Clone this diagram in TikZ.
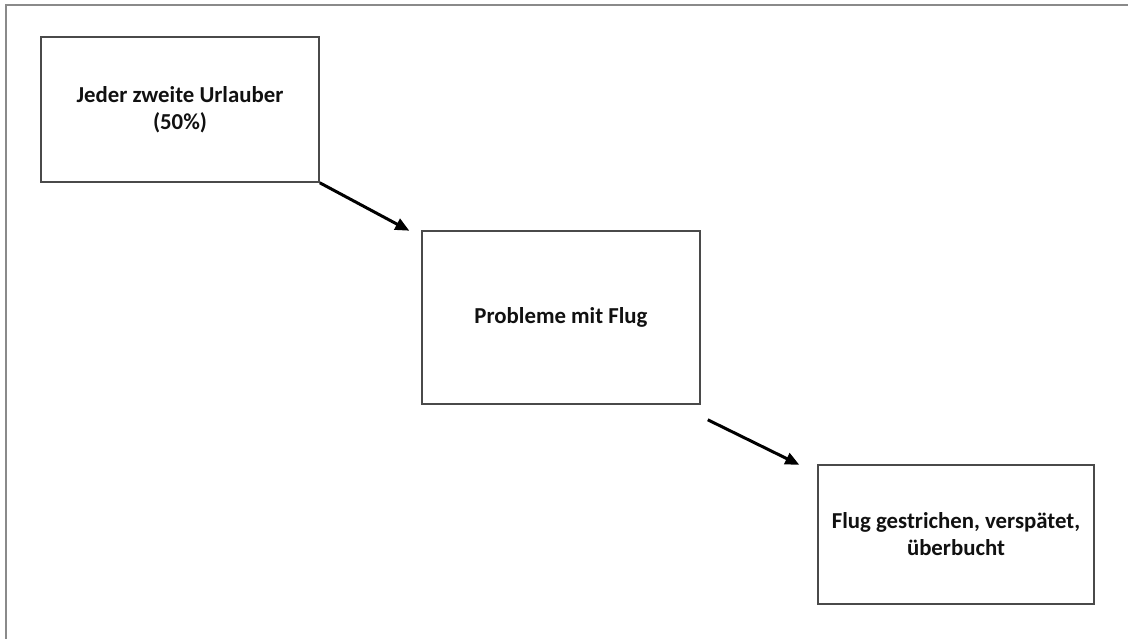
\documentclass[tikz,border=0pt]{standalone}
\usepackage{fontspec}
\setmainfont{Carlito}
\usetikzlibrary{arrows.meta,calc}
\definecolor{framegray}{HTML}{8A8A8A}
\definecolor{boxgray}{HTML}{4A4A4A}
\definecolor{inkcol}{HTML}{111111}
\begin{document}
\begin{tikzpicture}[x=1pt,y=-1pt,
  box/.style={draw=boxgray, line width=1.6pt, fill=white, inner sep=0pt,
    align=center, text=inkcol,
    font=\fontsize{22.8}{27}\selectfont\bfseries},
  flow/.style={line width=3pt, black,
    -{Triangle[length=14pt,width=12pt]}, shorten >=1pt}]
  \useasboundingbox (0,0) rectangle (1128,639);
  % outer frame (top and left edges only)
  \draw[framegray, line width=2pt] (5.5,639) -- (5.5,5.5) -- (1128,5.5);

  \node[box, minimum width=278pt, minimum height=145pt] (b1) at (180,109.5)
    {Jeder zweite Urlauber\\(50\%)};
  \node[box, minimum width=278pt, minimum height=173pt] (b2) at (561,317.5)
    {Probleme mit Flug};
  \node[box, minimum width=276pt, minimum height=139pt] (b3) at (956,534.5)
    {Flug gestrichen, verspätet,\\überbucht};

  \coordinate (a1end) at ($(b2.north west)+(-11,1)$);
  \coordinate (a2start) at ($(b2.south east)+(7,15)$);
  \coordinate (a2end) at ($(b3.north west)+(-17,1)$);

  \draw[flow] (b1.south east) -- (a1end);
  \draw[flow] (a2start) -- (a2end);
\end{tikzpicture}
\end{document}
